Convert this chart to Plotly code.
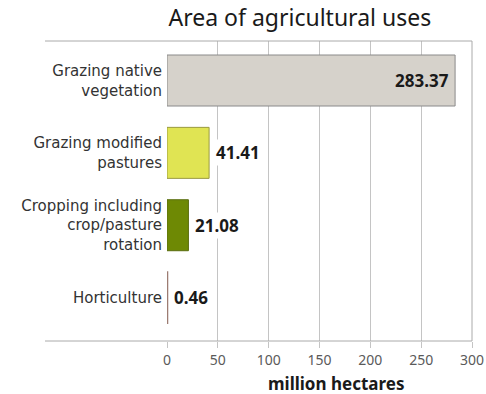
import plotly.graph_objects as go

# Land area by agricultural use (million hectares)
categories = [
    "Grazing native<br>vegetation",
    "Grazing modified<br>pastures",
    "Cropping including<br>crop/pasture<br>rotation",
    "Horticulture",
]
values = [283.37, 41.41, 21.08, 0.46]
bar_colors = ["#d6d2cb", "#e0e453", "#6e8904", "#a88a80"]
line_colors = ["#8a8a8a", "#9a9a40", "#5a6e10", "#9c7c72"]
line_widths = [1, 1, 1, 1.6]
x_ticks = [0, 50, 100, 150, 200, 250, 300]

FONT = "Noto Sans"
LABEL_FONT = "DejaVu Sans"
GRID = "#c4c4c4"

fig = go.Figure()
fig.add_trace(go.Bar(
    y=categories,
    x=values,
    orientation="h",
    width=0.705,
    marker=dict(color=bar_colors, line=dict(color=line_colors, width=line_widths)),
    hoverinfo="skip",
))

# Value labels: inside the end of the longest bar, just beyond the others
for cat, val in zip(categories, values):
    if val > 150:
        fig.add_annotation(x=val, y=cat, text=f"<b>{val:.2f}</b>", xanchor="right",
                           xshift=-4, showarrow=False,
                           font=dict(family=FONT, size=17, color="#1a1a1a"))
    else:
        fig.add_annotation(x=val, y=cat, text=f"<b>{val:.2f}</b>", xanchor="left",
                           xshift=5, showarrow=False, bgcolor="white",
                           font=dict(family=FONT, size=17, color="#1a1a1a"))

# Axis title, set to the right of the plot centre
fig.add_annotation(text="<b>million hectares</b>", xref="paper", yref="paper",
                   x=0.553, y=-0.14, xanchor="center", yanchor="middle",
                   showarrow=False,
                   font=dict(family=FONT, size=17, color="#1a1a1a"))

# Frame lines across the top, bottom and right side
frame = dict(color="#aaaaaa", width=1)
fig.add_shape(type="line", xref="paper", yref="paper", x0=-0.4, x1=1, y0=1, y1=1, line=frame)
fig.add_shape(type="line", xref="paper", yref="paper", x0=-0.4, x1=1, y0=0, y1=0, line=frame)
fig.add_shape(type="line", xref="paper", yref="paper", x0=1, x1=1, y0=0, y1=1, line=frame)

fig.update_layout(
    width=486, height=394,
    margin=dict(l=167, r=14, t=41, b=53, autoexpand=False),
    paper_bgcolor="white", plot_bgcolor="white",
    showlegend=False,
    title=dict(text="Area of agricultural uses", x=0.617, xanchor="center",
               y=0.955, yanchor="middle",
               font=dict(family=FONT, size=23, color="#1a1a1a")),
    xaxis=dict(
        range=[0, 300], tickvals=x_ticks, ticks="outside", ticklen=6,
        tickcolor=GRID, tickwidth=1, showline=False,
        showgrid=True, gridcolor=GRID, gridwidth=1, zeroline=False,
        automargin=False, ticklabelstandoff=0,
        tickfont=dict(family=FONT, size=14, color="#5a5a5a"),
    ),
    yaxis=dict(
        range=[3.6, -0.546], ticks="", showline=False, showgrid=False,
        automargin=False,
        tickfont=dict(family=LABEL_FONT, size=15, color="#333333"),
        ticklabelstandoff=4,
    ),
)

fig.write_html("out.html")
